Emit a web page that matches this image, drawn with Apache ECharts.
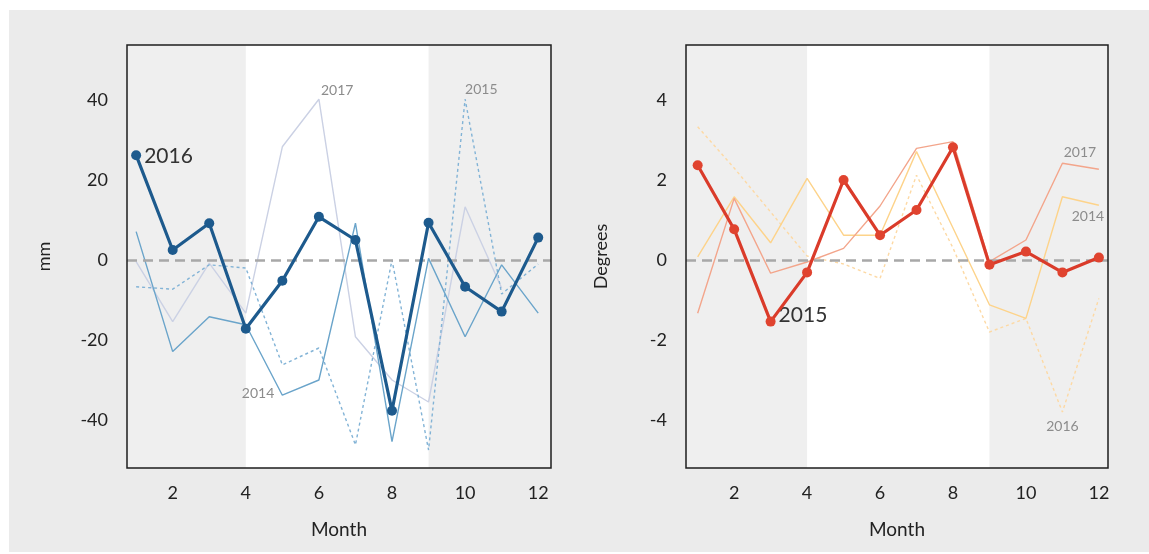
<!DOCTYPE html>
<html><head><meta charset="utf-8">
<script src="https://cdn.jsdelivr.net/npm/echarts@6/dist/echarts.min.js"></script>
<style>html,body{margin:0;padding:0;background:#fff}#c{width:1149px;height:554px}</style>
</head><body><div id="c"></div>
<script>
// ---- data ----
const months = [1,2,3,4,5,6,7,8,9,10,11,12];
const monthTicks = [2,4,6,8,10,12];
const rainTicks = [-40,-20,0,20,40];
const tempTicks = [-4,-2,0,2,4];
const shadeMonths = [4, 9];

const rain2014 = [7.1, -22.9, -14.2, -16.2, -33.8, -30.0, 9.2, -45.4, 0.4, -19.2, -1.2, -13.3];
const rain2015 = [-6.7, -7.3, -1.2, -2.0, -26.2, -22.0, -46.2, 0.0, -47.5, 40.2, -8.5, -1.0];
const rain2016 = [26.2, 2.5, 9.2, -17.2, -5.2, 10.8, 5.0, -37.7, 9.3, -6.7, -12.9, 5.6];
const rain2017 = [-0.4, -15.4, -0.8, -13.3, 28.3, 40.2, -19.2, -30.0, -35.5, 13.3, -7.0, null];

const temp2014 = [0.08, 1.58, 0.43, 2.04, 0.62, 0.62, 2.71, 0.8, -1.12, -1.46, 1.58, 1.37];
const temp2015 = [2.37, 0.77, -1.54, -0.31, 2.0, 0.62, 1.25, 2.82, -0.12, 0.21, -0.31, 0.06];
const temp2016 = [3.33, 2.3, 1.2, 0.1, -0.1, -0.46, 2.12, 0.3, -1.8, -1.46, -3.8, -0.96];
const temp2017 = [-1.33, 1.54, -0.33, -0.05, 0.29, 1.35, 2.79, 2.96, -0.04, 0.5, 2.42, 2.27];

// ---- layout ----
const X0 = {min: 0.75, max: 12.35};
const X1 = {min: 0.68, max: 12.25};
const Y0 = {min: -52, max: 53.75};
const Y1 = {min: -5.2, max: 5.375};
const G0 = {left:127, top:45, width:424, height:423};
const G1 = {left:686, top:45, width:422, height:423};
const FONT = 'Lato';

function pairs(vals){ return months.map((m,i)=>[m, vals[i]]); }

function line(name, vals, g, color, opts){
  opts = opts || {};
  const s = {
    name, type:'line', xAxisIndex:g, yAxisIndex:g,
    data: pairs(vals), z: opts.z || 3,
    symbol: 'circle', symbolSize: opts.bold ? 10 : 0, showSymbol: !!opts.bold,
    lineStyle: {color, width: opts.bold ? 3.2 : 1.4, type: opts.dash ? [3,3] : 'solid'},
    itemStyle: {color: opts.markerColor || color},
    emphasis: {disabled:true}, silent:true, animation:false
  };
  if (opts.label) {
    const k = opts.label.idx;
    s.markPoint = {
      symbol:'circle', symbolSize:0, silent:true, animation:false,
      data:[{coord:[months[k], vals[k]], name}],
      label:Object.assign({show:true, formatter:name, fontFamily:FONT,
        color: opts.bold ? '#333' : '#8c8c8c', fontSize: opts.bold ? 21 : 14}, opts.label.style)
    };
  }
  return s;
}

function frame(g, xr){
  return {
    type:'line', xAxisIndex:g, yAxisIndex:g, data:[], z:1, silent:true, animation:false,
    markArea:{silent:true, itemStyle:{color:'#efefef'},
      data:[[{xAxis:xr.min},{xAxis:shadeMonths[0]}],[{xAxis:shadeMonths[1]},{xAxis:xr.max}]]},
    markLine:{silent:true, symbol:['none','none'], label:{show:false},
      lineStyle:{color:'#a8a8a8', width:2.5, type:[10,6]},
      data:[{yAxis:0}]}
  };
}

function xAxis(g, xr){
  return {type:'value', gridIndex:g, min:xr.min, max:xr.max,
    name:'Month', nameLocation:'middle', nameGap:52,
    nameTextStyle:{fontFamily:FONT, fontSize:19, color:'#222'},
    axisLine:{show:false}, axisTick:{show:false}, splitLine:{show:false},
    axisLabel:{customValues:monthTicks, fontFamily:FONT, fontSize:18, color:'#222', margin:16}};
}
function yAxis(g, yr, ticks, name, gap){
  return {type:'value', gridIndex:g, min:yr.min, max:yr.max,
    name, nameLocation:'middle', nameGap:gap,
    nameTextStyle:{fontFamily:FONT, fontSize:18, color:'#222'},
    axisLine:{show:false}, axisTick:{show:false}, splitLine:{show:false},
    axisLabel:{customValues:ticks, fontFamily:FONT, fontSize:18, color:'#222', margin:19}};
}
function border(G){
  return {type:'rect', z:100, silent:true,
    shape:{x:G.left, y:G.top, width:G.width, height:G.height},
    style:{fill:null, stroke:'#1e1e1e', lineWidth:1.5}};
}

const chart = echarts.init(document.getElementById('c'), null, {renderer:'canvas'});
chart.setOption({
  animation:false,
  backgroundColor:'#ffffff',
  graphic:[
    {type:'rect', z:-10, silent:true, shape:{x:9, y:10, width:1140, height:542}, style:{fill:'#ebebeb'}},
    border(G0), border(G1)
  ],
  grid:[
    Object.assign({show:true, backgroundColor:'#ffffff', borderWidth:0}, G0),
    Object.assign({show:true, backgroundColor:'#ffffff', borderWidth:0}, G1)
  ],
  xAxis:[xAxis(0,X0), xAxis(1,X1)],
  yAxis:[yAxis(0,Y0,rainTicks,'mm',74), yAxis(1,Y1,tempTicks,'Degrees',76)],
  series:[
    frame(0,X0), frame(1,X1),
    line('2017', rain2017, 0, '#cbd1e4', {label:{idx:5, style:{position:'right', distance:2, offset:[0,-9]}}}),
    line('2015', rain2015, 0, '#82b3d6', {dash:true, label:{idx:9, style:{position:'right', distance:0, offset:[0,-10]}}}),
    line('2014', rain2014, 0, '#6aa4ca', {label:{idx:4, style:{position:'left', distance:8, offset:[0,-2]}}}),
    line('2016', rain2016, 0, '#1d5a8d', {bold:true, z:5, label:{idx:0, style:{position:'right', distance:8, offset:[0,1]}}}),
    line('2016', temp2016, 1, '#fdd9a4', {dash:true, label:{idx:10, style:{position:'bottom', distance:6, offset:[0,1]}}}),
    line('2014', temp2014, 1, '#fdd38a', {label:{idx:11, style:{position:'bottom', distance:4, offset:[-11,0]}}}),
    line('2017', temp2017, 1, '#f3a58b', {label:{idx:11, style:{position:'top', distance:6, offset:[-19,-4]}}}),
    line('2015', temp2015, 1, '#da3b2a', {bold:true, z:5, markerColor:'#e0432f', label:{idx:2, style:{position:'right', distance:8, offset:[0,-6]}}})
  ]
});
</script></body></html>
